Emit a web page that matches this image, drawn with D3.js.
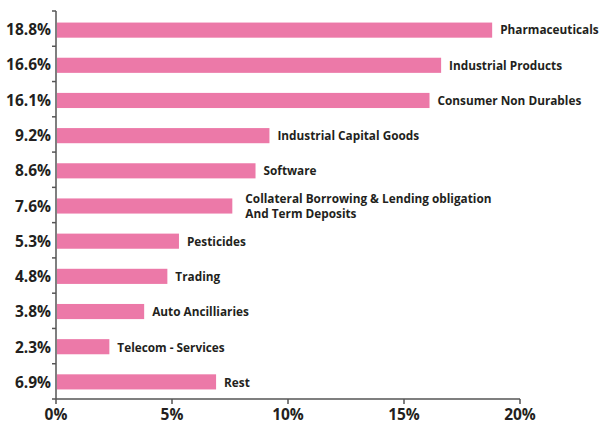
<!DOCTYPE html>
<html><head><meta charset="utf-8">
<script src="https://cdn.jsdelivr.net/npm/d3@7"></script>
<style>body{margin:0;background:#fff}svg{display:block}</style>
</head><body>
<svg id="c" width="599" height="423"></svg>
<script>
const categories = ["Pharmaceuticals","Industrial Products","Consumer Non Durables","Industrial Capital Goods","Software","Collateral Borrowing & Lending obligation\nAnd Term Deposits","Pesticides","Trading","Auto Ancilliaries","Telecom - Services","Rest"];
const values = [18.8,16.6,16.1,9.2,8.6,7.6,5.3,4.8,3.8,2.3,6.9];
const valueLabels = ["18.8%","16.6%","16.1%","9.2%","8.6%","7.6%","5.3%","4.8%","3.8%","2.3%","6.9%"];
const xTicks = [0,5,10,15,20];

(function(){
const svg = d3.select("#c");
const mL = 56, mR = 520, mT = 11, mB = 399;
const font = "'Open Sans', sans-serif";
const txt = "#231f20", axisCol = "#555";

const x = d3.scaleLinear().domain([0,20]).range([mL,mR]);
const y = d3.scaleBand().domain(categories.map((d,i)=>i)).range([mT,mB]).paddingInner(0.57).paddingOuter(0.3);
const yb = d3.scaleBand().domain(categories.map((d,i)=>i)).range([mT,mB]);

svg.selectAll("rect.bar").data(values).join("rect")
  .attr("x", x(0)+1).attr("y",(d,i)=>y(i)+1).attr("height", y.bandwidth())
  .attr("width", d=>x(d)-x(0)-1).attr("fill","#ec79a8");

svg.selectAll("text.cat").data(categories).join("text")
  .attr("x",(d,i)=>x(values[i])+(d.includes("\n")?13:8))
  .attr("y",(d,i)=>yb(i)+yb.bandwidth()/2+1.5)
  .attr("font-family",font).attr("font-weight",700).attr("font-size","11.8px").attr("fill",txt)
  .each(function(d){
    const lines = d.split("\n");
    const el = d3.select(this);
    lines.forEach((l,k)=>{
      el.append("tspan").attr("x", el.attr("x"))
        .attr("dy", k===0 ? ((-(lines.length-1)*0.64)+0.35)+"em" : "1.28em").text(l);
    });
  });

svg.append("line").attr("x1",mL).attr("x2",mL).attr("y1",mT).attr("y2",mB).attr("stroke",axisCol).attr("stroke-width",1.5);
const bounds = categories.map((d,i)=>yb(i)).concat([mB]);
svg.selectAll("line.yt").data(bounds).join("line")
  .attr("x1",mL-4).attr("x2",mL).attr("y1",d=>d).attr("y2",d=>d).attr("stroke",axisCol).attr("stroke-width",1.5);

svg.selectAll("text.val").data(valueLabels).join("text")
  .attr("x",mL-5).attr("y",(d,i)=>yb(i)+yb.bandwidth()/2+1)
  .attr("dy","0.36em").attr("text-anchor","end")
  .attr("font-family",font).attr("font-weight",700).attr("font-size","15.5px").attr("fill",txt).text(d=>d);

svg.append("line").attr("x1",mL).attr("x2",mR).attr("y1",mB).attr("y2",mB).attr("stroke",axisCol).attr("stroke-width",1.5);
svg.selectAll("line.xt").data(xTicks).join("line")
  .attr("x1",d=>x(d)).attr("x2",d=>x(d)).attr("y1",mB).attr("y2",mB+5).attr("stroke",axisCol).attr("stroke-width",1.5);
svg.selectAll("text.xl").data(xTicks).join("text")
  .attr("x",d=>x(d)).attr("y",419.5).attr("text-anchor","middle")
  .attr("font-family",font).attr("font-weight",700).attr("font-size","15.5px").attr("fill",txt).text(d=>d+"%");
})();
</script>
</body></html>
